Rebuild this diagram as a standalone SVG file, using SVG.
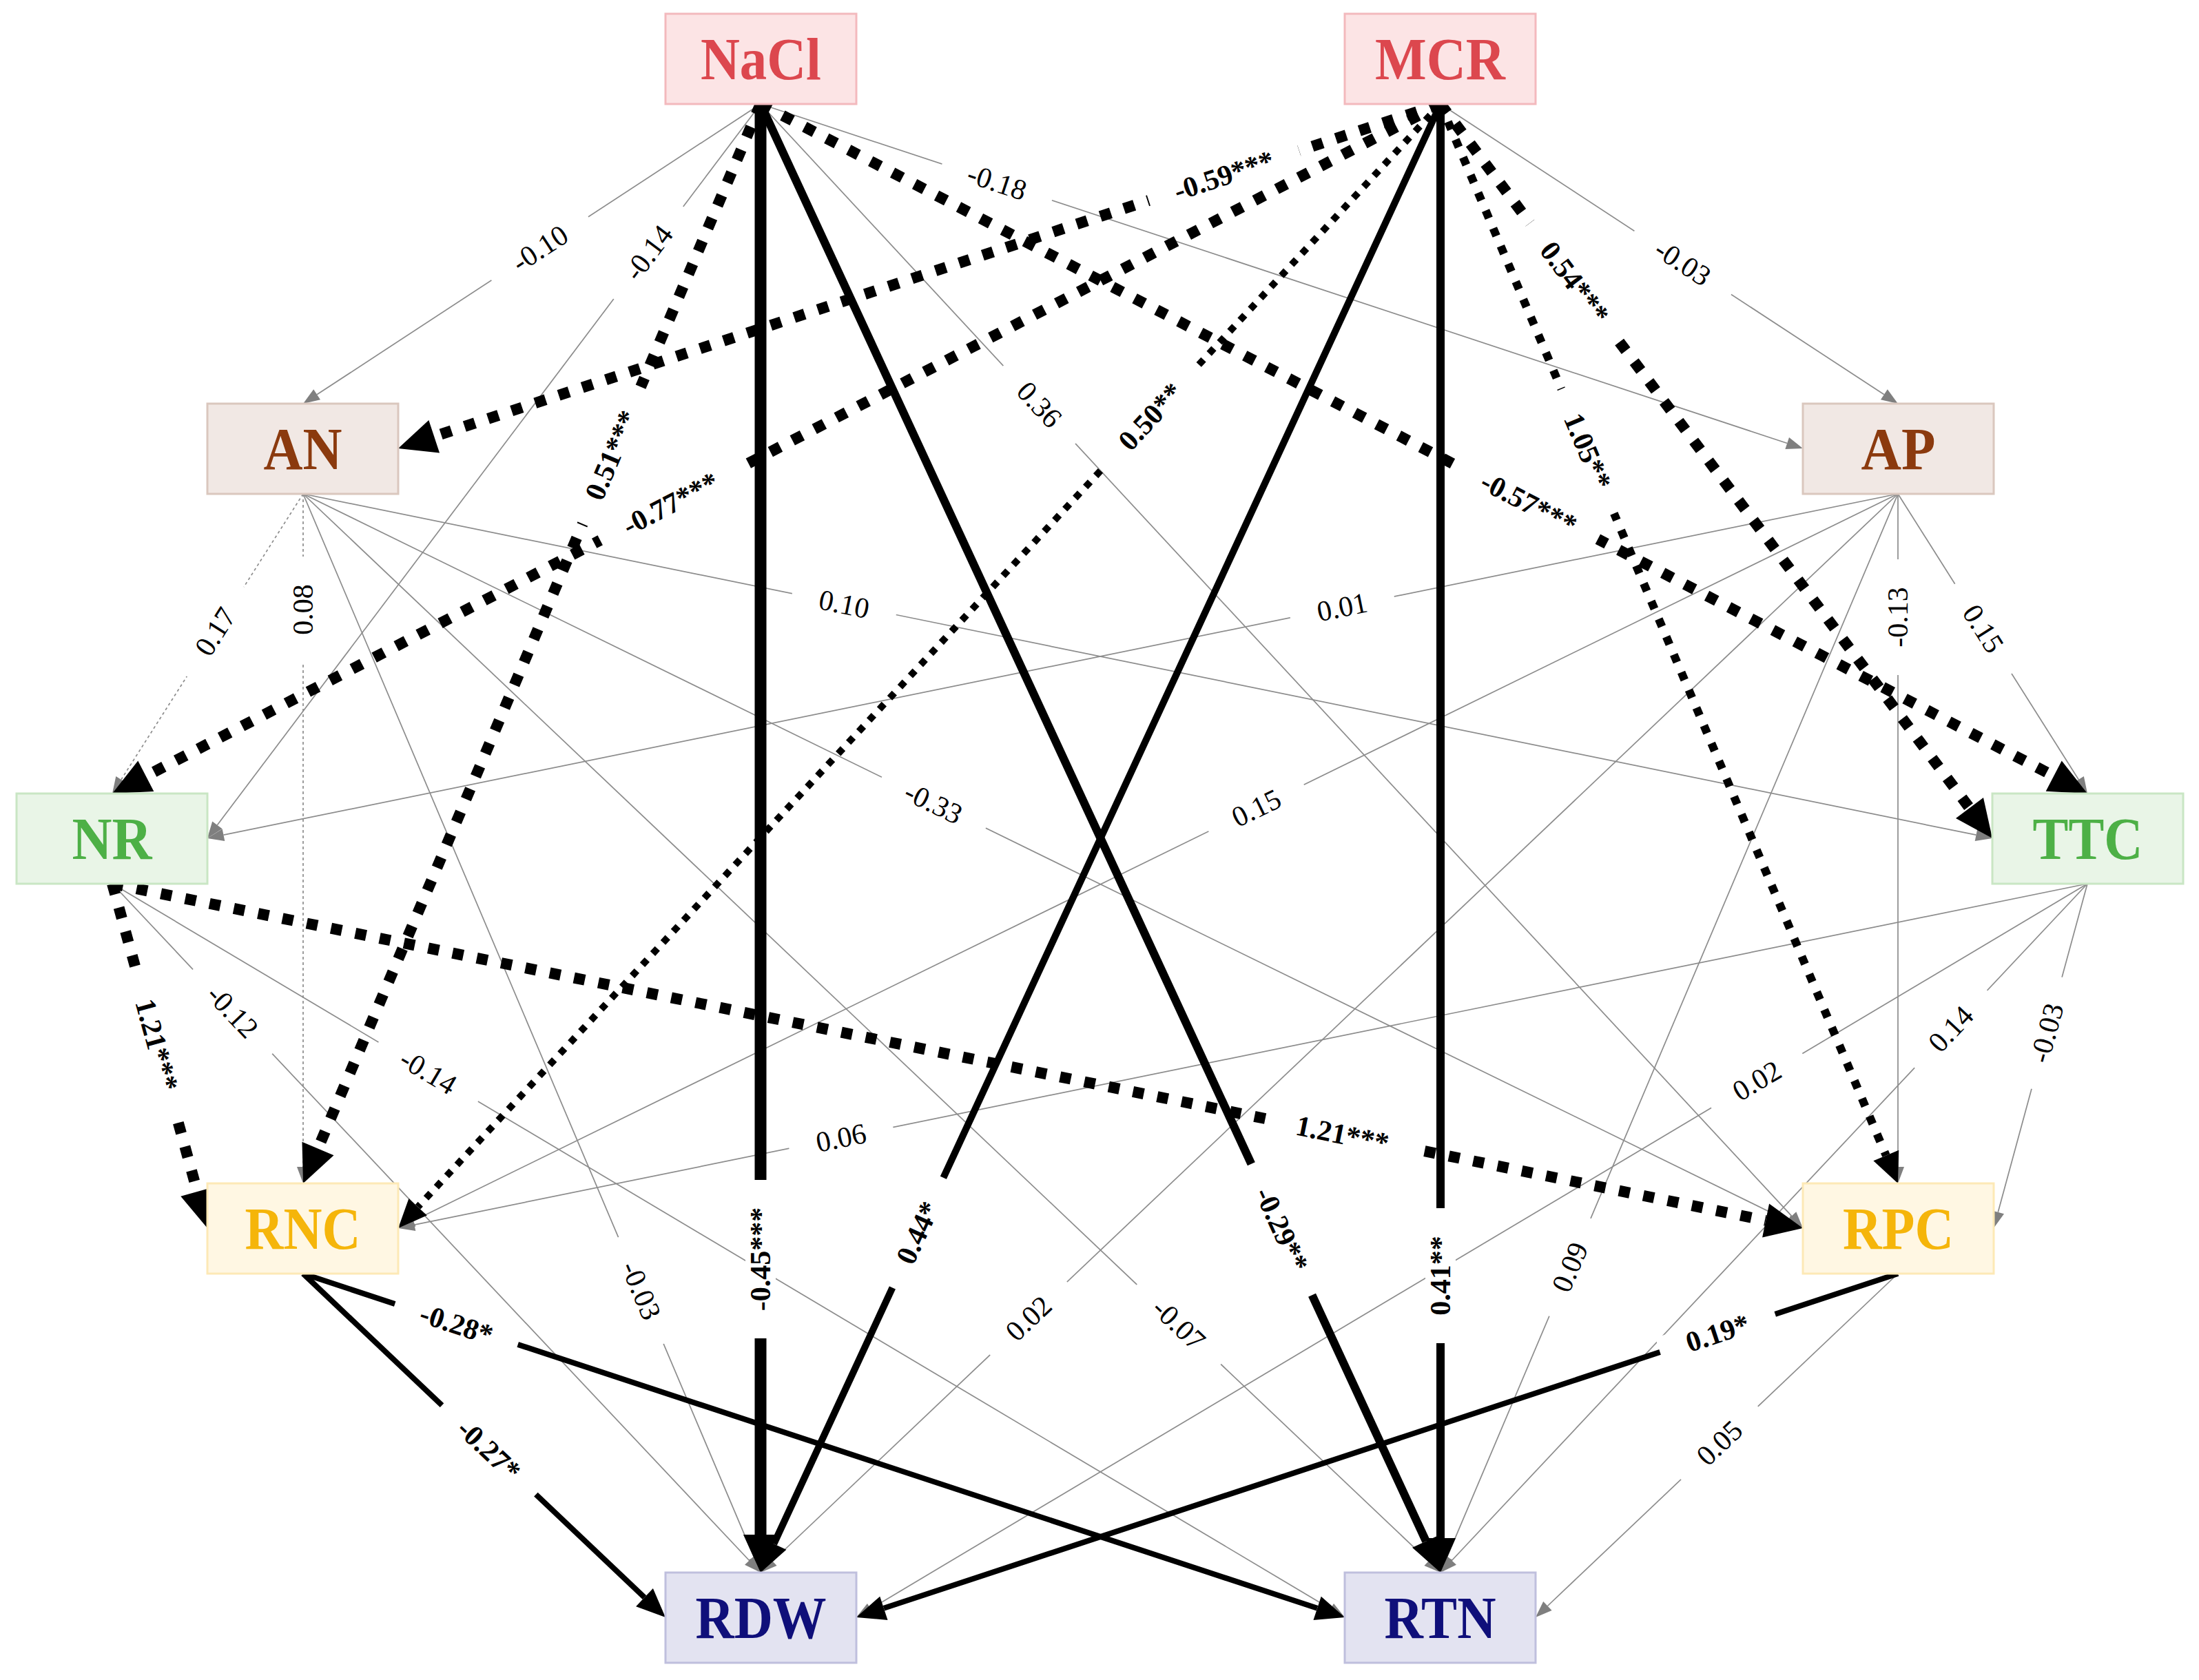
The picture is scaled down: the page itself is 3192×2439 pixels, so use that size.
<svg xmlns="http://www.w3.org/2000/svg" width="3192" height="2439" viewBox="0 0 3192 2439">
<defs>
<style>
.g{stroke:#8c8c8c;stroke-width:1.7;fill:none}
.gd{stroke:#8c8c8c;stroke-width:1.7;fill:none;stroke-dasharray:4 4}
.k{stroke:#000;fill:none;stroke-linecap:butt}
.d16{stroke-width:16;stroke-dasharray:16 20}
.d12{stroke-width:12;stroke-dasharray:12 16}
.d9{stroke-width:10;stroke-dasharray:10 12}
.bg{fill:#fff}
.lbl text{font-family:"Liberation Serif","Times New Roman",serif;font-size:42px;text-anchor:middle;fill:#000}
.lbl .s{font-weight:bold}
.node text{font-family:"Liberation Serif","Times New Roman",serif;font-size:86px;font-weight:bold;text-anchor:middle}
.node rect{stroke-width:3}
.c1 rect{fill:#fce4e5;stroke:#f3b9bd}.c1 text{fill:#dc474e}
.c2 rect{fill:#f1e8e4;stroke:#dac7be}.c2 text{fill:#8b3a0e}
.c3 rect{fill:#e9f5e7;stroke:#c9e6c4}.c3 text{fill:#4db046}
.c4 rect{fill:#fff7e3;stroke:#fde9b6}.c4 text{fill:#f5b50a}
.c5 rect{fill:#e3e3f1;stroke:#bfbfdd}.c5 text{fill:#0f0f7a}
</style>
<marker id="mG" markerUnits="userSpaceOnUse" orient="auto" refX="0" refY="0" markerWidth="60" markerHeight="60" overflow="visible"><path d="M0,-9 L24,0 L0,9 z" fill="#7f7f7f"/></marker>
<marker id="m55" markerUnits="userSpaceOnUse" orient="auto" refX="0" refY="0" markerWidth="120" markerHeight="120" overflow="visible"><path d="M0,-25 L55,0 L0,25 z" fill="#000"/></marker>
<marker id="m50" markerUnits="userSpaceOnUse" orient="auto" refX="0" refY="0" markerWidth="120" markerHeight="120" overflow="visible"><path d="M0,-22 L50,0 L0,22 z" fill="#000"/></marker>
<marker id="m46" markerUnits="userSpaceOnUse" orient="auto" refX="0" refY="0" markerWidth="120" markerHeight="120" overflow="visible"><path d="M0,-20 L46,0 L0,20 z" fill="#000"/></marker>
<marker id="m44" markerUnits="userSpaceOnUse" orient="auto" refX="0" refY="0" markerWidth="120" markerHeight="120" overflow="visible"><path d="M0,-20 L44,0 L0,20 z" fill="#000"/></marker>
<marker id="m42" markerUnits="userSpaceOnUse" orient="auto" refX="0" refY="0" markerWidth="120" markerHeight="120" overflow="visible"><path d="M0,-18 L42,0 L0,18 z" fill="#000"/></marker>
</defs>
<rect width="3192" height="2439" fill="#fff"/>
<g id="connectors">
<g id="gray-edges">
<line class="g" x1="1104" y1="151" x2="460.1" y2="572.8" marker-end="url(#mG)"/>
<line class="g" x1="1104" y1="151" x2="315.4" y2="1197.8" marker-end="url(#mG)"/>
<line class="g" x1="1104" y1="151" x2="2594.2" y2="643.5" marker-end="url(#mG)"/>
<line class="g" x1="1104" y1="151" x2="2600.7" y2="1765.4" marker-end="url(#mG)"/>
<line class="g" x1="2091" y1="151" x2="2734.9" y2="572.8" marker-end="url(#mG)"/>
<line class="gd" x1="440" y1="717" x2="175.9" y2="1131.8" marker-end="url(#mG)"/>
<line class="gd" x1="440" y1="717" x2="440" y2="1694" marker-end="url(#mG)"/>
<line class="g" x1="440" y1="717" x2="1094.6" y2="2260.9" marker-end="url(#mG)"/>
<line class="g" x1="440" y1="717" x2="2868.5" y2="1212.2" marker-end="url(#mG)"/>
<line class="g" x1="440" y1="717" x2="2595.4" y2="1772.4" marker-end="url(#mG)"/>
<line class="g" x1="440" y1="717" x2="2073.6" y2="2266.5" marker-end="url(#mG)"/>
<line class="g" x1="2755" y1="717" x2="324.5" y2="1212.2" marker-end="url(#mG)"/>
<line class="g" x1="2755" y1="717" x2="3017.2" y2="1131.7" marker-end="url(#mG)"/>
<line class="g" x1="2755" y1="717" x2="2755" y2="1694" marker-end="url(#mG)"/>
<line class="g" x1="2755" y1="717" x2="599.6" y2="1772.4" marker-end="url(#mG)"/>
<line class="g" x1="2755" y1="717" x2="1121.4" y2="2266.5" marker-end="url(#mG)"/>
<line class="g" x1="2755" y1="717" x2="2100.4" y2="2260.9" marker-end="url(#mG)"/>
<line class="g" x1="163" y1="1283" x2="1087.6" y2="2265.5" marker-end="url(#mG)"/>
<line class="g" x1="163" y1="1283" x2="1931.4" y2="2335.7" marker-end="url(#mG)"/>
<line class="g" x1="3030" y1="1283" x2="601.5" y2="1778.2" marker-end="url(#mG)"/>
<line class="g" x1="3030" y1="1283" x2="1263.6" y2="2335.7" marker-end="url(#mG)"/>
<line class="g" x1="3030" y1="1283" x2="2107.4" y2="2265.5" marker-end="url(#mG)"/>
<line class="g" x1="3030" y1="1283" x2="2900.3" y2="1759.8" marker-end="url(#mG)"/>
<line class="g" x1="2755" y1="1849" x2="2246.4" y2="2331.5" marker-end="url(#mG)"/>
</g>
<g id="black-edges">
<line class="k d16" x1="1104" y1="151" x2="461.5" y2="1667.4" marker-end="url(#m55)"/>
<line class="k" stroke-width="17" x1="1104" y1="151" x2="1104" y2="2228" marker-end="url(#m55)"/>
<line class="k" stroke-width="12" x1="1104" y1="151" x2="2070" y2="2237.6" marker-end="url(#m50)"/>
<line class="k d16" x1="1104" y1="151" x2="2981.2" y2="1126.6" marker-end="url(#m55)"/>
<line class="k d16" x1="2091" y1="151" x2="630.2" y2="633.7" marker-end="url(#m55)"/>
<line class="k d16" x1="2091" y1="151" x2="211.8" y2="1126.7" marker-end="url(#m55)"/>
<line class="k d9" x1="2091" y1="151" x2="606.6" y2="1752.2" marker-end="url(#m42)"/>
<line class="k" stroke-width="10" x1="2091" y1="151" x2="1123.3" y2="2241.3" marker-end="url(#m46)"/>
<line class="k" stroke-width="12" x1="2091" y1="151" x2="2091" y2="2233" marker-end="url(#m50)"/>
<line class="k d16" x1="2091" y1="151" x2="2859" y2="1173" marker-end="url(#m55)"/>
<line class="k d12" x1="2091" y1="151" x2="2737.8" y2="1677.5" marker-end="url(#m44)"/>
<line class="k d16" x1="163" y1="1283" x2="286.4" y2="1730" marker-end="url(#m55)"/>
<line class="k d16" x1="163" y1="1283" x2="2563.1" y2="1772" marker-end="url(#m55)"/>
<line class="k" stroke-width="8" x1="440" y1="1849" x2="935.5" y2="2319.1" marker-end="url(#m42)"/>
<line class="k" stroke-width="8" x1="440" y1="1849" x2="1912.1" y2="2334.8" marker-end="url(#m42)"/>
<line class="k" stroke-width="8" x1="2755" y1="1849" x2="1282.9" y2="2334.8" marker-end="url(#m42)"/>
</g>
<g id="edge-labels" class="lbl">
<g transform="translate(783.7,360.8) rotate(-33.2)"><rect class="bg" x="-84" y="-22" width="168" height="44"/><text y="14">-0.10</text></g>
<g transform="translate(941.3,367) rotate(-53)"><rect class="bg" x="-84" y="-22" width="168" height="44"/><text y="14">-0.14</text></g>
<g transform="translate(887.8,661) rotate(-67)"><rect class="bg" x="-108" y="-22" width="216" height="44"/><text class="s" y="14">0.51***</text></g>
<g transform="translate(1104,1828) rotate(-90)"><rect class="bg" x="-115" y="-22" width="230" height="44"/><text class="s" y="14">-0.45***</text></g>
<g transform="translate(1860.4,1785) rotate(65.2)"><rect class="bg" x="-105" y="-22" width="210" height="44"/><text class="s" y="14">-0.29**</text></g>
<g transform="translate(1447.2,264.4) rotate(18.3)"><rect class="bg" x="-84" y="-22" width="168" height="44"/><text y="14">-0.18</text></g>
<g transform="translate(2219.1,730.6) rotate(27.5)"><rect class="bg" x="-113" y="-22" width="226" height="44"/><text class="s" y="14">-0.57***</text></g>
<g transform="translate(1508.7,587.5) rotate(47.2)"><rect class="bg" x="-77" y="-22" width="154" height="44"/><text y="14">0.36</text></g>
<g transform="translate(1776.6,254.9) rotate(-18.3)"><rect class="bg" x="-115" y="-22" width="230" height="44"/><text class="s" y="14">-0.59***</text></g>
<g transform="translate(973.3,731.3) rotate(-27.4)"><rect class="bg" x="-115" y="-22" width="230" height="44"/><text class="s" y="14">-0.77***</text></g>
<g transform="translate(1670.2,604.8) rotate(-47.2)"><rect class="bg" x="-98" y="-22" width="196" height="44"/><text class="s" y="14">0.50**</text></g>
<g transform="translate(1332.4,1789.7) rotate(-65.2)"><rect class="bg" x="-88" y="-22" width="176" height="44"/><text class="s" y="14">0.44*</text></g>
<g transform="translate(2091,1852) rotate(-90)"><rect class="bg" x="-98" y="-22" width="196" height="44"/><text class="s" y="14">0.41**</text></g>
<g transform="translate(2442.7,381.4) rotate(33.2)"><rect class="bg" x="-84" y="-22" width="168" height="44"/><text y="14">-0.03</text></g>
<g transform="translate(2285.7,410.2) rotate(53.1)"><rect class="bg" x="-108" y="-22" width="216" height="44"/><text class="s" y="14">0.54***</text></g>
<g transform="translate(2304.6,655.1) rotate(67)"><rect class="bg" x="-98" y="-22" width="196" height="44"/><text class="s" y="14">1.05**</text></g>
<g transform="translate(312.6,917.1) rotate(-57.5)"><rect class="bg" x="-77" y="-22" width="154" height="44"/><text y="14">0.17</text></g>
<g transform="translate(440,885) rotate(-90)"><rect class="bg" x="-77" y="-22" width="154" height="44"/><text y="14">0.08</text></g>
<g transform="translate(930.5,1873.5) rotate(67)"><rect class="bg" x="-84" y="-22" width="168" height="44"/><text y="14">-0.03</text></g>
<g transform="translate(1225.3,877.1) rotate(11.5)"><rect class="bg" x="-77" y="-22" width="154" height="44"/><text y="14">0.10</text></g>
<g transform="translate(1355,1166) rotate(26.1)"><rect class="bg" x="-84" y="-22" width="168" height="44"/><text y="14">-0.33</text></g>
<g transform="translate(1711.2,1922.8) rotate(43.5)"><rect class="bg" x="-84" y="-22" width="168" height="44"/><text y="14">-0.07</text></g>
<g transform="translate(1948.3,881.4) rotate(-11.5)"><rect class="bg" x="-77" y="-22" width="154" height="44"/><text y="14">0.01</text></g>
<g transform="translate(2878.8,912.8) rotate(57.7)"><rect class="bg" x="-77" y="-22" width="154" height="44"/><text y="14">0.15</text></g>
<g transform="translate(2755,896) rotate(-90)"><rect class="bg" x="-84" y="-22" width="168" height="44"/><text y="14">-0.13</text></g>
<g transform="translate(1823.6,1173.1) rotate(-26.1)"><rect class="bg" x="-77" y="-22" width="154" height="44"/><text y="14">0.15</text></g>
<g transform="translate(1493.1,1914.1) rotate(-43.5)"><rect class="bg" x="-77" y="-22" width="154" height="44"/><text y="14">0.02</text></g>
<g transform="translate(2278.9,1839.8) rotate(-67)"><rect class="bg" x="-77" y="-22" width="154" height="44"/><text y="14">0.09</text></g>
<g transform="translate(227.6,1517.2) rotate(74.6)"><rect class="bg" x="-108" y="-22" width="216" height="44"/><text class="s" y="14">1.21***</text></g>
<g transform="translate(1948.6,1646.9) rotate(11.5)"><rect class="bg" x="-108" y="-22" width="216" height="44"/><text class="s" y="14">1.21***</text></g>
<g transform="translate(337.6,1468.6) rotate(46.7)"><rect class="bg" x="-84" y="-22" width="168" height="44"/><text y="14">-0.12</text></g>
<g transform="translate(621.7,1556) rotate(30.8)"><rect class="bg" x="-84" y="-22" width="168" height="44"/><text y="14">-0.14</text></g>
<g transform="translate(1220.9,1651.9) rotate(-11.5)"><rect class="bg" x="-77" y="-22" width="154" height="44"/><text y="14">0.06</text></g>
<g transform="translate(2550.2,1569) rotate(-30.8)"><rect class="bg" x="-77" y="-22" width="154" height="44"/><text y="14">0.02</text></g>
<g transform="translate(2831.8,1494) rotate(-46.8)"><rect class="bg" x="-77" y="-22" width="154" height="44"/><text y="14">0.14</text></g>
<g transform="translate(2971,1499.7) rotate(-74.8)"><rect class="bg" x="-84" y="-22" width="168" height="44"/><text y="14">-0.03</text></g>
<g transform="translate(662.5,1922.4) rotate(18.3)"><rect class="bg" x="-94" y="-22" width="188" height="44"/><text class="s" y="14">-0.28*</text></g>
<g transform="translate(709.7,2104.9) rotate(43.5)"><rect class="bg" x="-94" y="-22" width="188" height="44"/><text class="s" y="14">-0.27*</text></g>
<g transform="translate(2493.2,1935.4) rotate(-18.3)"><rect class="bg" x="-88" y="-22" width="176" height="44"/><text class="s" y="14">0.19*</text></g>
<g transform="translate(2495.9,2094.9) rotate(-43.5)"><rect class="bg" x="-77" y="-22" width="154" height="44"/><text y="14">0.05</text></g>
</g>
</g>
<g id="nodes">
<g id="NaCl" class="node c1"><rect x="966" y="20" width="277" height="131"/><text x="1104.5" y="115" textLength="175" lengthAdjust="spacingAndGlyphs">NaCl</text></g>
<g id="MCR" class="node c1"><rect x="1952" y="20" width="277" height="131"/><text x="2090.5" y="115" textLength="189" lengthAdjust="spacingAndGlyphs">MCR</text></g>
<g id="AN" class="node c2"><rect x="301" y="586" width="277" height="131"/><text x="439.5" y="681" textLength="114" lengthAdjust="spacingAndGlyphs">AN</text></g>
<g id="AP" class="node c2"><rect x="2617" y="586" width="277" height="131"/><text x="2755.5" y="681" textLength="108" lengthAdjust="spacingAndGlyphs">AP</text></g>
<g id="NR" class="node c3"><rect x="24" y="1152" width="277" height="131"/><text x="162.5" y="1247" textLength="116" lengthAdjust="spacingAndGlyphs">NR</text></g>
<g id="TTC" class="node c3"><rect x="2892" y="1152" width="277" height="131"/><text x="3030.5" y="1247" textLength="160" lengthAdjust="spacingAndGlyphs">TTC</text></g>
<g id="RNC" class="node c4"><rect x="301" y="1718" width="277" height="131"/><text x="439.5" y="1813" textLength="168" lengthAdjust="spacingAndGlyphs">RNC</text></g>
<g id="RPC" class="node c4"><rect x="2617" y="1718" width="277" height="131"/><text x="2755.5" y="1813" textLength="161" lengthAdjust="spacingAndGlyphs">RPC</text></g>
<g id="RDW" class="node c5"><rect x="966" y="2283" width="277" height="131"/><text x="1104.5" y="2378" textLength="190" lengthAdjust="spacingAndGlyphs">RDW</text></g>
<g id="RTN" class="node c5"><rect x="1952" y="2283" width="277" height="131"/><text x="2090.5" y="2378" textLength="162" lengthAdjust="spacingAndGlyphs">RTN</text></g>
</g>
</svg>
